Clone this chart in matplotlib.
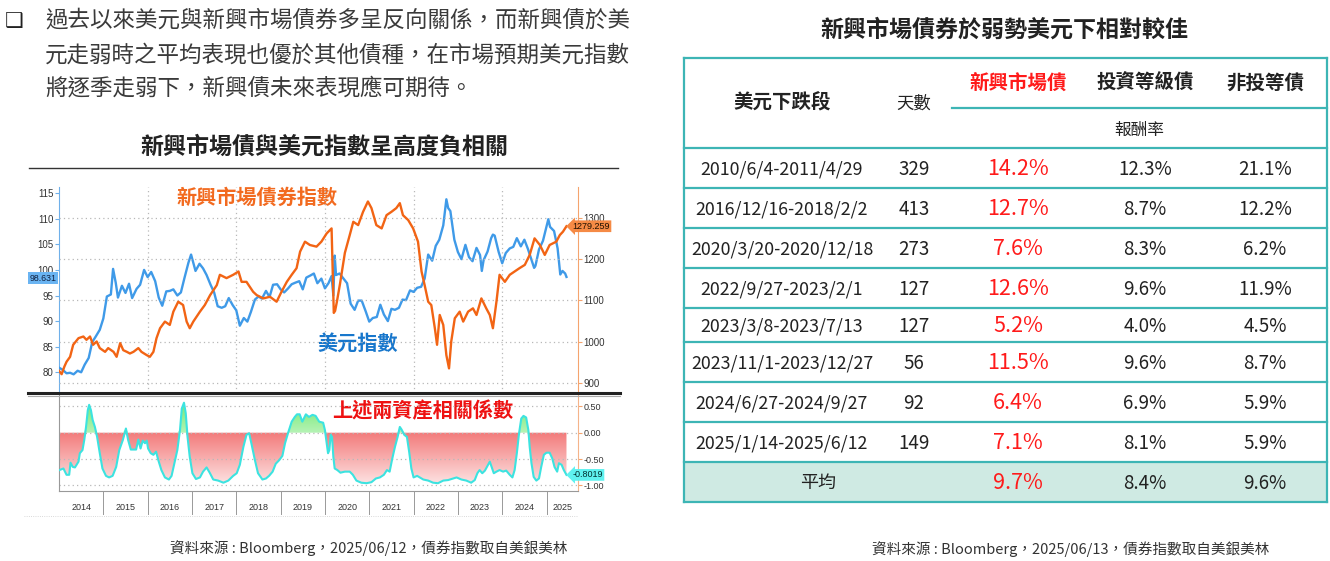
import numpy as np
import matplotlib
matplotlib.use('Agg')
import matplotlib.pyplot as plt
from matplotlib.colors import LinearSegmentedColormap
from matplotlib.lines import Line2D

plt.rcParams['font.family'] = ['Noto Sans CJK TC', 'DejaVu Sans']

# ---------------- DATA ----------------
intro_lines = [
    "過去以來美元與新興市場債券多呈反向關係，而新興債於美",
    "元走弱時之平均表現也優於其他債種，在市場預期美元指數",
    "將逐季走弱下，新興債未來表現應可期待。",
]
left_title = "新興市場債與美元指數呈高度負相關"
right_title = "新興市場債券於弱勢美元下相對較佳"
left_source = "資料來源 : Bloomberg，2025/06/12，債券指數取自美銀美林"
right_source = "資料來源 : Bloomberg，2025/06/13，債券指數取自美銀美林"
label_em = "新興市場債券指數"
label_dxy = "美元指數"
label_corr = "上述兩資產相關係數"

# US dollar index (left axis)
dxy_t = [2014.00, 2014.08, 2014.17, 2014.25, 2014.33, 2014.42, 2014.50, 2014.58, 2014.67, 2014.75,
         2014.83, 2014.92, 2015.00, 2015.08, 2015.17, 2015.22, 2015.28, 2015.33, 2015.42, 2015.50,
         2015.58, 2015.65, 2015.75, 2015.83, 2015.92, 2016.00, 2016.08, 2016.17, 2016.25, 2016.33,
         2016.42, 2016.50, 2016.58, 2016.67, 2016.75, 2016.83, 2016.92, 2016.98, 2017.08, 2017.17,
         2017.25, 2017.33, 2017.42, 2017.50, 2017.58, 2017.67, 2017.75, 2017.83, 2017.92, 2018.00,
         2018.08, 2018.17, 2018.25, 2018.33, 2018.42, 2018.50, 2018.58, 2018.67, 2018.75, 2018.83,
         2018.92, 2019.00, 2019.08, 2019.17, 2019.25, 2019.33, 2019.42, 2019.50, 2019.58, 2019.67,
         2019.75, 2019.83, 2019.92, 2020.00, 2020.08, 2020.15, 2020.19, 2020.22, 2020.25, 2020.33,
         2020.42, 2020.50, 2020.58, 2020.67, 2020.75, 2020.83, 2020.92, 2021.00, 2021.08, 2021.17,
         2021.25, 2021.33, 2021.42, 2021.50, 2021.58, 2021.67, 2021.75, 2021.83, 2021.92, 2022.00,
         2022.08, 2022.17, 2022.25, 2022.33, 2022.42, 2022.50, 2022.58, 2022.67, 2022.74, 2022.78,
         2022.83, 2022.92, 2023.00, 2023.08, 2023.17, 2023.25, 2023.33, 2023.42, 2023.50, 2023.54,
         2023.58, 2023.67, 2023.75, 2023.79, 2023.83, 2023.92, 2024.00, 2024.08, 2024.17, 2024.25,
         2024.33, 2024.42, 2024.50, 2024.58, 2024.67, 2024.72, 2024.75, 2024.83, 2024.92, 2025.00,
         2025.04, 2025.08, 2025.17, 2025.25, 2025.31, 2025.36, 2025.42, 2025.45]
dxy_v = [80.9, 80.5, 79.8, 79.9, 79.6, 80.3, 80.0, 81.5, 82.8, 85.9,
         87.0, 88.3, 90.5, 94.8, 95.2, 100.2, 97.5, 94.6, 96.9, 95.5,
         97.3, 94.5, 96.3, 97.1, 100.0, 98.6, 99.6, 97.8, 94.6, 93.0,
         95.8, 95.9, 96.2, 95.0, 95.6, 98.4, 101.4, 103.0, 99.8, 101.2,
         100.3, 99.0, 97.1, 95.6, 92.9, 92.6, 92.9, 94.5, 93.1, 92.1,
         89.1, 90.6, 89.9, 91.8, 94.2, 94.8, 94.4, 95.9, 94.7, 97.1,
         97.2, 96.2, 95.6, 96.4, 97.2, 97.5, 97.8, 96.2, 98.5, 98.9,
         99.3, 97.4, 98.3, 96.4, 97.4, 98.8, 95.0, 102.8, 99.0, 99.3,
         98.3, 97.4, 93.4, 92.2, 94.0, 94.0, 91.9, 89.9, 90.6, 90.8,
         93.2, 91.3, 90.0, 92.4, 92.2, 92.6, 94.2, 94.1, 96.0, 95.7,
         96.5, 96.7, 98.3, 103.0, 101.8, 104.7, 105.9, 108.7, 113.8, 112.1,
         111.5, 105.9, 103.5, 102.1, 104.9, 102.5, 101.7, 104.3, 102.9, 99.8,
         101.9, 103.6, 106.2, 106.9, 106.7, 103.5, 101.3, 103.3, 104.2, 104.5,
         106.2, 104.6, 105.9, 104.1, 101.7, 100.4, 100.8, 104.0, 105.7, 108.5,
         109.9, 108.4, 107.6, 104.2, 99.1, 99.8, 99.3, 98.631]

# EM bond index (right axis)
em_t = [2014.00, 2014.06, 2014.12, 2014.17, 2014.25, 2014.32, 2014.44, 2014.55, 2014.62, 2014.70,
        2014.77, 2014.85, 2014.92, 2015.04, 2015.11, 2015.23, 2015.30, 2015.38, 2015.45, 2015.53,
        2015.60, 2015.68, 2015.79, 2015.86, 2015.98, 2016.05, 2016.13, 2016.20, 2016.28, 2016.39,
        2016.50, 2016.58, 2016.69, 2016.80, 2016.88, 2016.95, 2017.03, 2017.18, 2017.29, 2017.41,
        2017.56, 2017.63, 2017.78, 2017.93, 2018.05, 2018.12, 2018.23, 2018.38, 2018.46, 2018.61,
        2018.76, 2018.91, 2019.02, 2019.14, 2019.25, 2019.36, 2019.44, 2019.55, 2019.66, 2019.81,
        2019.92, 2020.04, 2020.15, 2020.20, 2020.23, 2020.27, 2020.34, 2020.45, 2020.56, 2020.64,
        2020.75, 2020.86, 2020.97, 2021.05, 2021.16, 2021.28, 2021.39, 2021.50, 2021.61, 2021.69,
        2021.76, 2021.88, 2021.99, 2022.10, 2022.18, 2022.25, 2022.33, 2022.40, 2022.48, 2022.53,
        2022.59, 2022.67, 2022.74, 2022.80, 2022.85, 2022.93, 2023.04, 2023.12, 2023.23, 2023.34,
        2023.42, 2023.53, 2023.64, 2023.72, 2023.79, 2023.87, 2023.94, 2024.06, 2024.17, 2024.28,
        2024.39, 2024.51, 2024.62, 2024.73, 2024.85, 2024.96, 2025.07, 2025.22, 2025.30, 2025.37,
        2025.45]
em_v = [930, 922, 940, 952, 964, 993, 1009, 1013, 1005, 1013,
        993, 1001, 985, 976, 985, 976, 964, 997, 980, 976,
        972, 976, 985, 976, 968, 964, 976, 1009, 1033, 1049,
        1041, 1073, 1097, 1089, 1049, 1033, 1049, 1073, 1089, 1113,
        1137, 1162, 1154, 1162, 1170, 1145, 1145, 1121, 1113, 1105,
        1109, 1097, 1121, 1145, 1162, 1178, 1218, 1242, 1234, 1230,
        1242, 1262, 1274, 1070, 1075, 1097, 1140, 1215, 1258, 1290,
        1282, 1314, 1339, 1323, 1282, 1274, 1306, 1314, 1323, 1335,
        1306, 1294, 1274, 1242, 1170, 1137, 1097, 1089, 1033, 993,
        1065, 1041, 968, 936, 1001, 1057, 1073, 1049, 1073, 1081,
        1065, 1105, 1081, 1065, 1033, 1097, 1162, 1145, 1162, 1170,
        1178, 1186, 1210, 1250, 1234, 1210, 1234, 1242, 1258, 1266,
        1279.259]

# correlation of the two assets
corr_t = [2014.01, 2014.10, 2014.17, 2014.23, 2014.26, 2014.31, 2014.36, 2014.44, 2014.47, 2014.53,
          2014.57, 2014.61, 2014.65, 2014.68, 2014.72, 2014.76, 2014.81, 2014.86, 2014.92, 2014.98,
          2015.06, 2015.13, 2015.21, 2015.29, 2015.36, 2015.44, 2015.51, 2015.56, 2015.62, 2015.69,
          2015.74, 2015.79, 2015.84, 2015.89, 2015.94, 2015.98, 2016.01, 2016.07, 2016.13, 2016.19,
          2016.24, 2016.31, 2016.39, 2016.48, 2016.54, 2016.60, 2016.67, 2016.73, 2016.77, 2016.82,
          2016.86, 2016.90, 2016.95, 2017.01, 2017.09, 2017.18, 2017.25, 2017.33, 2017.40, 2017.48,
          2017.59, 2017.71, 2017.82, 2017.93, 2018.01, 2018.08, 2018.16, 2018.23, 2018.29, 2018.34,
          2018.42, 2018.49, 2018.59, 2018.67, 2018.74, 2018.82, 2018.89, 2018.97, 2019.04, 2019.10,
          2019.17, 2019.25, 2019.32, 2019.37, 2019.43, 2019.49, 2019.57, 2019.64, 2019.72, 2019.79,
          2019.87, 2019.96, 2020.00, 2020.04, 2020.07, 2020.10, 2020.13, 2020.16, 2020.19, 2020.22,
          2020.28, 2020.35, 2020.45, 2020.56, 2020.63, 2020.71, 2020.82, 2020.94, 2021.05, 2021.15,
          2021.24, 2021.33, 2021.40, 2021.46, 2021.52, 2021.58, 2021.64, 2021.69, 2021.73, 2021.79,
          2021.85, 2021.90, 2021.95, 2022.00, 2022.08, 2022.14, 2022.22, 2022.33, 2022.44, 2022.55,
          2022.67, 2022.78, 2022.89, 2022.97, 2023.08, 2023.19, 2023.30, 2023.38, 2023.44, 2023.49,
          2023.55, 2023.61, 2023.68, 2023.72, 2023.76, 2023.81, 2023.87, 2023.94, 2024.02, 2024.09,
          2024.17, 2024.23, 2024.28, 2024.33, 2024.38, 2024.43, 2024.48, 2024.54, 2024.59, 2024.62,
          2024.66, 2024.71, 2024.77, 2024.83, 2024.88, 2024.94, 2025.00, 2025.07, 2025.13, 2025.18,
          2025.24, 2025.28, 2025.34, 2025.39, 2025.45]
corr_v = [-0.71, -0.68, -0.80, -0.80, -0.57, -0.65, -0.66, -0.55, -0.39, -0.33,
          -0.14, 0.11, 0.43, 0.53, 0.43, 0.24, 0.11, -0.08, -0.39, -0.68,
          -0.82, -0.85, -0.82, -0.65, -0.33, -0.14, 0.08, -0.14, -0.32, -0.32,
          -0.32, -0.13, -0.30, -0.15, -0.20, -0.15, -0.30, -0.39, -0.42, -0.36,
          -0.52, -0.71, -0.85, -0.89, -0.82, -0.59, -0.33, 0.05, 0.46, 0.57,
          0.37, -0.08, -0.46, -0.77, -0.88, -0.85, -0.74, -0.66, -0.76, -0.89,
          -0.91, -0.95, -0.91, -0.82, -0.77, -0.61, -0.27, -0.04, -0.01, -0.20,
          -0.52, -0.77, -0.89, -0.87, -0.82, -0.74, -0.59, -0.52, -0.44, -0.20,
          0.00, 0.21, 0.30, 0.35, 0.35, 0.21, 0.35, 0.30, 0.34, 0.32,
          0.21, 0.19, 0.05, -0.20, -0.39, -0.33, -0.04, -0.08, -0.46, -0.68,
          -0.71, -0.76, -0.74, -0.74, -0.80, -0.91, -0.95, -0.96, -0.94, -0.87,
          -0.85, -0.80, -0.71, -0.74, -0.49, -0.27, -0.08, 0.11, 0.06, -0.04,
          -0.08, -0.36, -0.68, -0.85, -0.82, -0.85, -0.89, -0.91, -0.95, -0.96,
          -0.91, -0.90, -0.87, -0.85, -0.89, -0.91, -0.95, -0.90, -0.77, -0.71,
          -0.77, -0.72, -0.61, -0.55, -0.65, -0.77, -0.74, -0.71, -0.74, -0.72,
          -0.80, -0.85, -0.71, -0.39, -0.01, 0.27, 0.32, 0.29, 0.05, -0.27,
          -0.58, -0.84, -0.91, -0.87, -0.65, -0.42, -0.38, -0.38, -0.49, -0.65,
          -0.74, -0.58, -0.61, -0.71, -0.8019]

years = list(range(2014, 2026))
dxy_ticks = [80, 85, 90, 95, 100, 105, 110, 115]
em_ticks = [900, 1000, 1100, 1200, 1300]
corr_ticks = [0.5, 0.0, -0.5, -1.0]
grid_years = [2016, 2018, 2020, 2022, 2024]

# table
col_headers = ["美元下跌段", "天數", "新興市場債", "投資等級債", "非投等債"]
sub_header = "報酬率"
periods = ["2010/6/4-2011/4/29", "2016/12/16-2018/2/2", "2020/3/20-2020/12/18",
           "2022/9/27-2023/2/1", "2023/3/8-2023/7/13", "2023/11/1-2023/12/27",
           "2024/6/27-2024/9/27", "2025/1/14-2025/6/12"]
days = [329, 413, 273, 127, 127, 56, 92, 149]
ret_em = [14.2, 12.7, 7.6, 12.6, 5.2, 11.5, 6.4, 7.1]
ret_ig = [12.3, 8.7, 8.3, 9.6, 4.0, 9.6, 6.9, 8.1]
ret_hy = [21.1, 12.2, 6.2, 11.9, 4.5, 8.7, 5.9, 5.9]
avg_label = "平均"
avg_vals = [9.7, 8.4, 9.6]

# ---------------- FIGURE ----------------
W, H = 1330, 561
fig = plt.figure(figsize=(W / 100, H / 100), dpi=100)


def rect(x0, y0, x1, y1):
    return [x0 / W, 1 - y1 / H, (x1 - x0) / W, (y1 - y0) / H]


bg = fig.add_axes([0, 0, 1, 1], zorder=-5)
bg.set_xlim(0, W)
bg.set_ylim(H, 0)
bg.axis('off')

# intro text
bg.text(5, 21, '❑', fontsize=15, ha='left', va='center', color='#222222',
        family=['DejaVu Sans'])
for yy, line in zip([20, 55, 88], intro_lines):
    bg.text(45, yy, line, fontsize=16.2, ha='left', va='center', color='#3a3a3a')

bg.text(324, 147, left_title, fontsize=16.6, fontweight='bold', ha='center', va='center',
        color='#222222')
bg.plot([29, 618], [168, 168], color='#333333', lw=1.0)
bg.text(369, 548, left_source, fontsize=10.5, ha='center', va='center', color='#333333')

# ---------------- LEFT CHART ----------------
XMIN, XMAX = 2014.0, 2025.71
BLUE = '#3f9ae8'
ORANGE = '#f26414'
TICKF = ['Liberation Sans', 'DejaVu Sans']

ax_u = fig.add_axes(rect(59, 187, 578, 393))
ax_u.set_facecolor('none')
ax_u.set_xlim(XMIN, XMAX)
ax_u.set_ylim(75.95, 116.2)
ax_r = ax_u.twinx()
ax_r.set_ylim(876.6, 1374)
ax_r.set_xlim(XMIN, XMAX)

for a in (ax_u, ax_r):
    for s in ('top', 'bottom'):
        a.spines[s].set_visible(False)
ax_u.spines['right'].set_visible(False)
ax_r.spines['left'].set_visible(False)
ax_u.spines['left'].set_color('#6fb0ea')
ax_r.spines['right'].set_color('#f5a46e')

ax_u.set_yticks(dxy_ticks)
ax_u.set_yticklabels([str(v) for v in dxy_ticks], family=TICKF)
ax_u.tick_params(axis='y', labelsize=7, length=3, color='#6fb0ea', labelcolor='#333333', pad=1)
ax_r.set_yticks(em_ticks)
ax_r.set_yticklabels([str(v) for v in em_ticks], family=TICKF)
ax_r.tick_params(axis='y', labelsize=7, length=3, color='#f5a46e', labelcolor='#333333', pad=1)
ax_u.set_xticks(grid_years)
ax_u.set_xticklabels([])
ax_u.tick_params(axis='x', length=0)
ax_u.grid(axis='x', ls=(0, (1, 2.5)), color='#b8b8b8', lw=0.9)
ax_r.grid(axis='y', ls=(0, (1, 2.5)), color='#b8b8b8', lw=0.9)

ax_u.plot(dxy_t, dxy_v, color=BLUE, lw=1.7, zorder=3)
ax_r.plot(em_t, em_v, color=ORANGE, lw=1.7, zorder=3)

ax_u.annotate(f"{dxy_v[-1]:.3f}", xy=(0, dxy_v[-1]), xycoords=('axes fraction', 'data'),
              xytext=(-1.5, -1), textcoords='offset points', ha='right', va='center',
              fontsize=6.3, family=TICKF, color='#102040',
              bbox=dict(boxstyle='square,pad=0.18', fc='#6ab4f2', ec='none'),
              annotation_clip=False, zorder=10)

ax_r.annotate(f"{em_v[-1]:.3f}", xy=(1, em_v[-1]), xycoords=('axes fraction', 'data'),
              xytext=(-4, 0), textcoords='offset points', ha='left', va='center',
              fontsize=6.5, family=TICKF, color='#201000',
              bbox=dict(boxstyle='larrow,pad=0.15', fc='#f58a45', ec='none'),
              annotation_clip=False, zorder=10)

# lower correlation panel
ax_l = fig.add_axes(rect(59, 394, 578, 491))
ax_l.set_facecolor('none')
ax_l.set_xlim(XMIN, XMAX)
CLO, CHI = -1.108, 0.736
ax_l.set_ylim(CLO, CHI)
ax_l.spines['top'].set_visible(False)
ax_l.spines['left'].set_color('#999999')
ax_l.spines['bottom'].set_color('#999999')
ax_l.spines['right'].set_color('#f5b48a')
ax_l.yaxis.tick_right()
ax_l.set_yticks(corr_ticks)
ax_l.set_yticklabels([f"{v:.2f}" for v in corr_ticks], family=TICKF)
ax_l.tick_params(axis='y', labelsize=6.5, length=3, color='#f5a46e', labelcolor='#333333', pad=1)
ax_l.set_xticks([])
ax_l.grid(axis='y', ls=(0, (1, 2.5)), color='#b8b8b8', lw=0.9)

ct = np.array(corr_t)
cv = np.array(corr_v)
red_cmap = LinearSegmentedColormap.from_list('r', ['#fde4e4', '#f37a7a'])
grn_cmap = LinearSegmentedColormap.from_list('g', ['#b6f3b6', '#6fe86f'])
grad = np.linspace(0, 1, 256).reshape(-1, 1)

neg = ax_l.fill_between(ct, np.minimum(cv, 0), 0, color='none', lw=0)
im_r = ax_l.imshow(grad, extent=[ct[0], ct[-1], -1.0, 0], origin='lower', aspect='auto',
                   cmap=red_cmap, zorder=1)
im_r.set_clip_path(neg.get_paths()[0], transform=ax_l.transData)
pos = ax_l.fill_between(ct, np.maximum(cv, 0), 0, color='none', lw=0)
im_g = ax_l.imshow(grad, extent=[ct[0], ct[-1], 0, 0.6], origin='lower', aspect='auto',
                   cmap=grn_cmap, zorder=1)
im_g.set_clip_path(pos.get_paths()[0], transform=ax_l.transData)
ax_l.set_xlim(XMIN, XMAX)
ax_l.set_ylim(CLO, CHI)
ax_l.plot(ct, cv, color='#3ce3e0', lw=1.5, zorder=3)

ax_l.annotate(f"{corr_v[-1]:.4f}", xy=(1, corr_v[-1]), xycoords=('axes fraction', 'data'),
              xytext=(-4, 0), textcoords='offset points', ha='left', va='center',
              fontsize=6.5, family=TICKF, color='#003030',
              bbox=dict(boxstyle='larrow,pad=0.15', fc='#5ff2f0', ec='none'),
              annotation_clip=False, zorder=10)

# separator between panels
fig.add_artist(Line2D([28 / W, 620 / W], [1 - 393 / H, 1 - 393 / H], color='#222222', lw=2.2))
fig.add_artist(Line2D([28 / W, 620 / W], [1 - 396 / H, 1 - 396 / H], color='#aaaaaa', lw=0.8))

# year band
ax_y = fig.add_axes(rect(59, 491, 578, 516))
ax_y.set_xlim(XMIN, XMAX)
ax_y.set_ylim(0, 1)
ax_y.axis('off')
for y in years[1:]:
    ax_y.plot([y, y], [0.1, 1], color='#999999', lw=0.7)
for i, y in enumerate(years):
    nxt = years[i + 1] if i + 1 < len(years) else XMAX
    ax_y.text((y + nxt) / 2, 0.36, str(y), ha='center', va='center', fontsize=6.5,
              family=TICKF, color='#333333')
ax_y.plot([XMIN - 0.8, XMAX], [0.02, 0.02], color='#cccccc', lw=0.6, ls=':', clip_on=False)

# in-chart labels
bg.text(257, 197, label_em, fontsize=14.5, fontweight='bold', color='#f26a1f',
        ha='center', va='center')
bg.text(358, 343, label_dxy, fontsize=14.5, fontweight='bold', color='#1877cc',
        ha='center', va='center')
bg.text(423, 411, label_corr, fontsize=14.5, fontweight='bold', color='#ee1111',
        ha='center', va='center')

# ---------------- RIGHT TABLE ----------------
TEAL = '#3db5b5'
RED = '#ff1a1a'
DARK = '#222222'
bg.text(1004, 30, right_title, fontsize=16.6, fontweight='bold', ha='center', va='center',
        color=DARK)

TL, TR = 684, 1327
row_edges = [148, 188, 228, 268, 308, 342, 382, 422, 462, 502]
bg.add_patch(plt.Rectangle((TL, row_edges[-2]), TR - TL, row_edges[-1] - row_edges[-2],
                           fc='#cfeae3', ec='none'))
bg.plot([TL, TR], [58, 58], color=TEAL, lw=1.6)
bg.plot([952, TR], [108, 108], color=TEAL, lw=1.6)
for ye in row_edges:
    bg.plot([TL, TR], [ye, ye], color=TEAL, lw=1.6)
bg.plot([TL, TL], [58, 502], color=TEAL, lw=1.6)
bg.plot([TR, TR], [58, 502], color=TEAL, lw=1.6)

col_x = [782, 914, 1018, 1145, 1265]
bg.text(col_x[0], 103, col_headers[0], fontsize=14, fontweight='bold', ha='center',
        va='center', color=DARK)
bg.text(col_x[1], 104, col_headers[1], fontsize=12.5, ha='center', va='center', color=DARK)
bg.text(col_x[2], 83, col_headers[2], fontsize=14, fontweight='bold', ha='center',
        va='center', color=RED)
bg.text(col_x[3], 83, col_headers[3], fontsize=14, fontweight='bold', ha='center',
        va='center', color=DARK)
bg.text(col_x[4], 83, col_headers[4], fontsize=14, fontweight='bold', ha='center',
        va='center', color=DARK)
bg.text(1139, 130, sub_header, fontsize=12, ha='center', va='center', color=DARK)

for i in range(len(periods)):
    yc = (row_edges[i] + row_edges[i + 1]) / 2 + 1
    bg.text(col_x[0], yc, periods[i], fontsize=12.8, ha='center', va='center', color=DARK)
    bg.text(col_x[1], yc, str(days[i]), fontsize=13.5, ha='center', va='center', color=DARK)
    bg.text(col_x[2], yc, f"{ret_em[i]:.1f}%", fontsize=15.5, ha='center', va='center', color=RED)
    bg.text(col_x[3], yc, f"{ret_ig[i]:.1f}%", fontsize=13.5, ha='center', va='center', color=DARK)
    bg.text(col_x[4], yc, f"{ret_hy[i]:.1f}%", fontsize=13.5, ha='center', va='center', color=DARK)

yc = (row_edges[-2] + row_edges[-1]) / 2 + 1
bg.text(818, yc, avg_label, fontsize=13, ha='center', va='center', color=DARK)
bg.text(col_x[2], yc, f"{avg_vals[0]:.1f}%", fontsize=15.5, ha='center', va='center', color=RED)
bg.text(col_x[3], yc, f"{avg_vals[1]:.1f}%", fontsize=13.5, ha='center', va='center', color=DARK)
bg.text(col_x[4], yc, f"{avg_vals[2]:.1f}%", fontsize=13.5, ha='center', va='center', color=DARK)

bg.text(1071, 549, right_source, fontsize=10.5, ha='center', va='center', color='#333333')

fig.savefig('out.png', dpi=100)
